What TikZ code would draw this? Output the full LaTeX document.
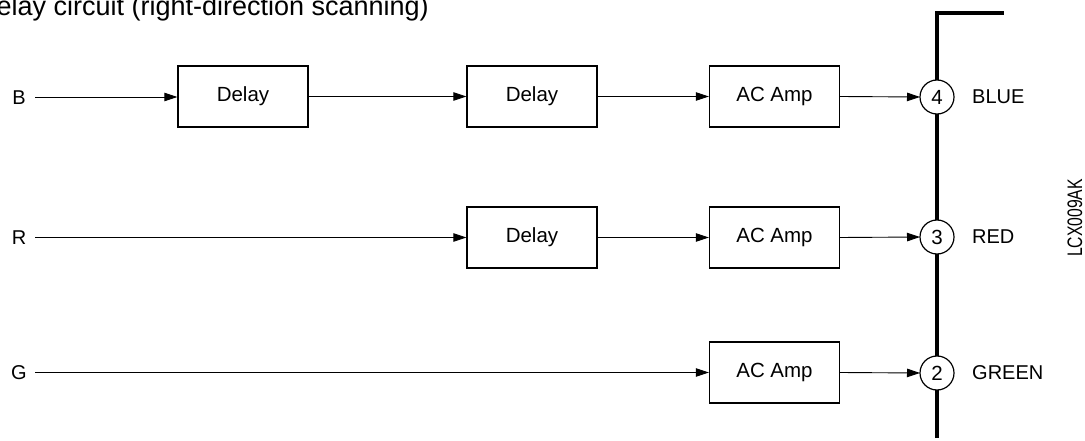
\documentclass[tikz,border=0pt]{standalone}
\usepackage{fontspec}
\setmainfont{Liberation Sans}
\usetikzlibrary{arrows.meta}
\begin{document}
\begin{tikzpicture}[x=1pt,y=-1pt,
  blk/.style={draw,line width=1.3pt,minimum width=130pt,minimum height=61pt,inner sep=0pt,font=\fontsize{20.5}{24}\selectfont},
  junc/.style={draw,circle,line width=1.2pt,minimum size=34pt,inner sep=0pt,outer sep=0pt,fill=white,font=\fontsize{20.5}{24}\selectfont},
  lbl/.style={inner sep=0pt,font=\fontsize{20}{24}\selectfont},
  wire/.style={line width=0.9pt,-{Triangle[length=13pt,width=8.5pt]}},
  bus/.style={line width=4pt}]
\useasboundingbox (0,0) rectangle (1085,441);
% title
\node[inner sep=0pt,anchor=base east,font=\fontsize{27}{31}\selectfont] (title) at (429,16) {Delay circuit (right-direction scanning)};
% bus
\coordinate (bustop) at (937,13);
\coordinate (busend) at (1004,13);
\coordinate (busbot) at (937,438);
\draw[bus] (busbot) -- (bustop) -- (busend);
% blocks
\node[blk] (d1) at (243,96.5) {Delay};
\node[blk] (d2) at (532,96.5) {Delay};
\node[blk] (ab) at (774.5,96.5) {AC Amp};
\node[blk] (d3) at (532,237.5) {Delay};
\node[blk] (ar) at (774.5,237.5) {AC Amp};
\node[blk] (ag) at (774.5,372.5) {AC Amp};
% junctions
\node[junc] (c4) at (937,97) {4};
\node[junc] (c3) at (937,237) {3};
\node[junc] (c2) at (937,373) {2};
% labels
\node[lbl] (lb) at (19,98) {B};
\node[lbl] (lr) at (19,238) {R};
\node[lbl] (lg) at (19,373) {G};
\node[lbl,anchor=west] (tb) at (972,97) {BLUE};
\node[lbl,anchor=west] (tr) at (972,237) {RED};
\node[lbl,anchor=west] (tg) at (972,373) {GREEN};
\node[inner sep=0pt,rotate=90,font=\fontsize{21}{24}\selectfont] (code) at (1075,218) {\scalebox{0.75}[1]{LCX009AK}};
% wires
\coordinate (sb) at (35,97);
\coordinate (sr) at (35,237.5);
\coordinate (sg) at (35,372.5);
\draw[wire] (sb) -- (sb -| d1.west);
\draw[wire] (d1.east) -- (d2.west);
\draw[wire] (d2.east) -- (ab.west);
\draw[wire] (ab.east) -- (c4.west);
\draw[wire] (sr) -- (d3.west);
\draw[wire] (d3.east) -- (ar.west);
\draw[wire] (ar.east) -- (c3.west);
\draw[wire] (sg) -- (ag.west);
\draw[wire] (ag.east) -- (c2.west);
\end{tikzpicture}
\end{document}
